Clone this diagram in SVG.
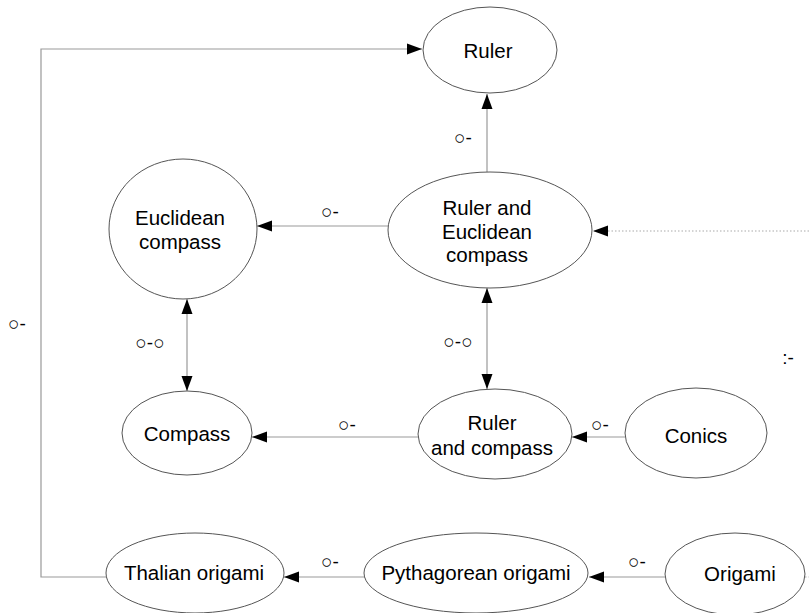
<svg xmlns="http://www.w3.org/2000/svg" width="809" height="613" viewBox="0 0 809 613">
<style>
.node ellipse{fill:#fff;stroke:#555;stroke-width:1}
.node text{font-family:"Liberation Sans",Arial,sans-serif;font-size:20.5px;fill:#000;text-anchor:middle}
.edge{fill:none;stroke:#999;stroke-width:1.2}
.dot{fill:none;stroke:#aaa;stroke-width:1.2;stroke-dasharray:1.5 2}
.lbl{font-family:"Liberation Sans",Arial,sans-serif;font-size:19px;fill:#000;text-anchor:middle}
</style>
<defs>
<marker id="ah" markerUnits="userSpaceOnUse" markerWidth="16" markerHeight="12" refX="15" refY="6" orient="auto-start-reverse">
<path d="M0,0.5 L15,6 L0,11.5 z" fill="#000"/>
</marker>
</defs>
<rect width="809" height="613" fill="#fff"/>
<g id="connectors">
<polyline class="edge" points="106,577 41,577 41,49 422,49" marker-end="url(#ah)"/>
<line class="edge" x1="487" y1="172" x2="487" y2="94" marker-end="url(#ah)"/>
<line class="edge" x1="388" y1="226" x2="257" y2="226" marker-end="url(#ah)"/>
<line class="edge" x1="487" y1="288" x2="487" y2="389" marker-start="url(#ah)" marker-end="url(#ah)"/>
<line class="edge" x1="187" y1="299" x2="187" y2="391" marker-start="url(#ah)" marker-end="url(#ah)"/>
<line class="edge" x1="419" y1="437" x2="252" y2="437" marker-end="url(#ah)"/>
<line class="edge" x1="625" y1="437" x2="572" y2="437" marker-end="url(#ah)"/>
<line class="edge" x1="365" y1="577" x2="284" y2="577" marker-end="url(#ah)"/>
<line class="edge" x1="665" y1="577" x2="589" y2="577" marker-end="url(#ah)"/>
<line class="dot" x1="809" y1="231" x2="593" y2="231" marker-end="url(#ah)"/>
<line class="dot" x1="805" y1="577" x2="809" y2="577"/>
<text class="lbl" x="17" y="330">○-</text>
<text class="lbl" x="463" y="144">○-</text>
<text class="lbl" x="330" y="218">○-</text>
<text class="lbl" x="458" y="348">○-○</text>
<text class="lbl" x="150" y="349">○-○</text>
<text class="lbl" x="347" y="431">○-</text>
<text class="lbl" x="600" y="431">○-</text>
<text class="lbl" x="330" y="568">○-</text>
<text class="lbl" x="637" y="568">○-</text>
<text class="lbl" x="788" y="364">:-</text>
</g>
<g id="ruler" class="node"><ellipse cx="490" cy="50" rx="67" ry="43"/><text x="488" y="58">Ruler</text></g>
<g id="ruler-euclidean-compass" class="node"><ellipse cx="490" cy="230" rx="102" ry="58"/><text x="487" y="215">Ruler and</text><text x="487" y="239">Euclidean</text><text x="487" y="262">compass</text></g>
<g id="euclidean-compass" class="node"><ellipse cx="183" cy="229" rx="74" ry="70"/><text x="180" y="225">Euclidean</text><text x="180" y="249">compass</text></g>
<g id="compass" class="node"><ellipse cx="187" cy="433" rx="65" ry="42"/><text x="187" y="441">Compass</text></g>
<g id="ruler-and-compass" class="node"><ellipse cx="495" cy="434" rx="77" ry="45"/><text x="492" y="430">Ruler</text><text x="492" y="455">and compass</text></g>
<g id="conics" class="node"><ellipse cx="696" cy="433" rx="71" ry="45"/><text x="696" y="443">Conics</text></g>
<g id="thalian-origami" class="node"><ellipse cx="195" cy="573" rx="89" ry="40"/><text x="194" y="580">Thalian origami</text></g>
<g id="pythagorean-origami" class="node"><ellipse cx="476" cy="573" rx="112" ry="40"/><text x="476" y="580">Pythagorean origami</text></g>
<g id="origami" class="node"><ellipse cx="735" cy="574" rx="70" ry="41"/><text x="740" y="581">Origami</text></g>
</svg>
